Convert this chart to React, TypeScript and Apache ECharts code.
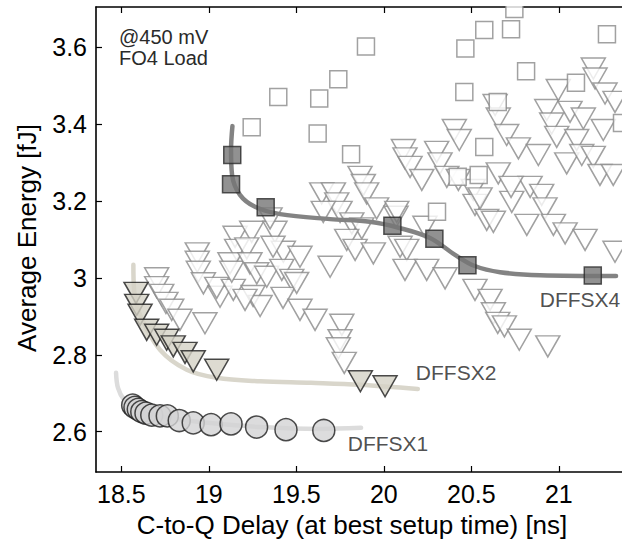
import React, { useEffect, useRef } from "react";
import * as echarts from "echarts";

// ---------- data ----------
const xTicks = [18.5, 19, 19.5, 20, 20.5, 21];
const yTicks = [2.6, 2.8, 3, 3.2, 3.4, 3.6];

const xTitle = "C-to-Q Delay (at best setup time) [ns]";
const yTitle = "Average Energy [fJ]";
const noteLines = ["@450 mV", "FO4 Load"];

// DFFSX1 (circles)
const dffsx1Points: [number, number][] = [
  [18.565, 2.669], [18.578, 2.663], [18.597, 2.658], [18.617, 2.652], [18.641, 2.648],
  [18.674, 2.643], [18.721, 2.641], [18.763, 2.641], [18.831, 2.629], [18.911, 2.623],
  [19.013, 2.618], [19.127, 2.62], [19.273, 2.612], [19.441, 2.605], [19.657, 2.603],
];
const dffsx1Curve: [number, number][] = [
  [18.47, 2.753], [18.481, 2.714], [18.516, 2.683], [18.578, 2.662], [18.721, 2.641],
  [18.95, 2.625], [19.293, 2.612], [19.636, 2.607], [19.87, 2.61],
];

// DFFSX2 (filled triangles)
const dffsx2Points: [number, number][] = [
  [18.584, 2.961], [18.588, 2.93], [18.607, 2.904], [18.645, 2.865], [18.702, 2.852],
  [18.759, 2.839], [18.797, 2.822], [18.864, 2.805], [18.911, 2.783], [19.045, 2.761],
  [19.866, 2.731], [20.007, 2.718],
];
const dffsx2Curve: [number, number][] = [
  [18.569, 3.034], [18.573, 2.969], [18.607, 2.904], [18.721, 2.813], [18.874, 2.761],
  [19.045, 2.74], [19.293, 2.731], [19.584, 2.727], [19.864, 2.722], [20.194, 2.711],
];

// DFFSX4 (filled squares)
const dffsx4Points: [number, number][] = [
  [19.134, 3.32], [19.127, 3.244], [19.325, 3.184], [20.049, 3.136], [20.289, 3.102],
  [20.478, 3.033], [21.194, 3.006],
];
const dffsx4Curve: [number, number][] = [
  [19.135, 3.395], [19.127, 3.333], [19.133, 3.268], [19.178, 3.216], [19.264, 3.185],
  [19.407, 3.166], [19.693, 3.153], [19.92, 3.146], [20.09, 3.13], [20.264, 3.104],
  [20.407, 3.06], [20.52, 3.031], [20.664, 3.015], [20.893, 3.007], [21.327, 3.005],
];

// Other designs: open triangles
const otherTriangles: [number, number][] = [
  [18.702, 2.999], [18.702, 2.976], [18.731, 2.956], [18.755, 2.935], [18.788, 2.917],
  [18.835, 2.891], [18.978, 2.882], [18.934, 3.064], [18.934, 3.042], [18.94, 3.016],
  [18.969, 2.986], [19.064, 2.951], [19.045, 2.974], [19.14, 2.969], [19.253, 2.953],
  [19.293, 2.927], [19.207, 2.943], [19.15, 3.107], [19.245, 3.12], [19.378, 3.12],
  [19.159, 3.073], [19.217, 3.077], [19.121, 3.038], [19.131, 3.016], [19.235, 3.038],
  [19.274, 3.012], [19.331, 3.003], [19.426, 3.068], [19.417, 3.021], [19.474, 2.995],
  [19.521, 3.055], [19.424, 2.948], [19.521, 2.917], [19.502, 2.987], [19.35, 3.155],
  [19.367, 3.081],
  [20.112, 3.333], [20.121, 3.311], [20.15, 3.289], [20.217, 3.255], [20.302, 3.328],
  [20.321, 3.298], [20.36, 3.263], [20.426, 3.255], [20.403, 3.385], [20.431, 3.359],
  [20.511, 3.229], [20.521, 3.19], [20.588, 3.151], [19.864, 3.263], [19.883, 3.242],
  [19.902, 3.22], [19.959, 3.181], [20.07, 3.159], [19.645, 3.22], [19.712, 3.22],
  [19.731, 3.194], [19.75, 3.172], [19.654, 3.172], [19.817, 3.142], [19.874, 3.129],
  [19.788, 3.099], [19.836, 3.073], [19.94, 3.064], [20.074, 3.172], [20.093, 3.081],
  [20.131, 3.073], [20.235, 3.133], [20.121, 3.021], [20.245, 3.021], [20.35, 2.999],
  [19.693, 3.029], [19.607, 2.891], [19.76, 2.878], [19.75, 2.838], [19.74, 2.817],
  [19.774, 2.779], [20.521, 2.969], [20.607, 2.943], [20.626, 2.908], [20.651, 2.883],
  [20.689, 2.874], [20.774, 2.839], [20.937, 2.822],
  [20.636, 3.45], [20.654, 3.415], [20.702, 3.372], [20.769, 3.337], [20.883, 3.32],
  [20.654, 3.272], [20.55, 3.207], [20.626, 3.146], [20.836, 3.237], [20.731, 3.198],
  [20.902, 3.216], [20.921, 3.181], [20.817, 3.138], [20.969, 3.138], [21.036, 3.116],
  [21.15, 3.099], [21.321, 3.068], [20.931, 3.437], [20.997, 3.489], [21.064, 3.432],
  [21.14, 3.415], [21.197, 3.545], [21.207, 3.519], [21.264, 3.48], [21.321, 3.458],
  [20.959, 3.402], [20.988, 3.367], [21.045, 3.298], [21.102, 3.359], [21.131, 3.32],
  [21.197, 3.315], [21.254, 3.385], [21.235, 3.268], [21.311, 3.268], [20.727, 3.237],
];

// Other designs: open squares
const otherSquares: [number, number][] = [
  [19.397, 3.471], [19.245, 3.392], [19.898, 3.602], [19.74, 3.517], [19.631, 3.467],
  [19.622, 3.376], [19.813, 3.322], [20.574, 3.645], [20.727, 3.647], [20.746, 3.7],
  [20.466, 3.597], [20.813, 3.538], [20.46, 3.484], [20.651, 3.458], [20.574, 3.341],
  [20.422, 3.263], [20.542, 3.268], [20.304, 3.172], [21.098, 3.508], [21.275, 3.634],
  [21.361, 3.403],
];

// Series labels anchored in data coordinates
const seriesLabels: { name: string; pos: [number, number] }[] = [
  { name: "DFFSX4", pos: [21.121, 2.943] },
  { name: "DFFSX2", pos: [20.413, 2.755] },
  { name: "DFFSX1", pos: [20.024, 2.568] },
];

// ---------- chart ----------
const FONT = "'Liberation Sans', Arial, Helvetica, sans-serif";
const downTri = "path://M0 0L24 0L12 21Z";

export default function App() {
  const ref = useRef<HTMLDivElement>(null);

  useEffect(() => {
    if (!ref.current) return;
    const chart = echarts.init(ref.current, undefined, { renderer: "svg" });

    const xMin = 18.3554;
    const xMax = 21.361;
    const yMin = 2.495;
    const yMax = 3.705;

    const axisLine = { show: true, lineStyle: { color: "#000", width: 1.6 } };

    const curve = (data: [number, number][], color: string) => ({
      type: "line",
      data,
      smooth: 0.35,
      showSymbol: false,
      symbol: "none",
      silent: true,
      clip: false,
      lineStyle: { color, width: 4.5, cap: "round", join: "round" },
      z: 3,
    });

    chart.setOption({
      animation: false,
      backgroundColor: "#fff",
      grid: { left: 96, top: 7, right: 0, bottom: 74, containLabel: false },
      xAxis: [
        {
          type: "value",
          min: xMin,
          max: xMax,
          position: "bottom",
          axisLine,
          splitLine: { show: false },
          axisTick: { show: true, inside: true, length: 6, customValues: xTicks, lineStyle: { color: "#000", width: 1.2 } },
          axisLabel: {
            show: true,
            customValues: xTicks,
            fontSize: 25,
            color: "#000",
            fontFamily: FONT,
            margin: 9,
          },
        },
        {
          type: "value",
          min: xMin,
          max: xMax,
          position: "top",
          axisLine,
          splitLine: { show: false },
          axisTick: { show: true, inside: true, length: 6, customValues: xTicks, lineStyle: { color: "#000", width: 1.2 } },
          axisLabel: { show: false },
        },
      ],
      yAxis: [
        {
          type: "value",
          min: yMin,
          max: yMax,
          axisLine,
          splitLine: { show: false },
          axisTick: { show: true, inside: true, length: 6, customValues: yTicks, lineStyle: { color: "#000", width: 1.2 } },
          axisLabel: {
            show: true,
            customValues: yTicks,
            fontSize: 25,
            color: "#000",
            fontFamily: FONT,
            margin: 9,
          },
        },
      ],
      graphic: [
        {
          type: "rect",
          z: 100,
          silent: true,
          shape: { x: 97, y: 0, width: 525, height: 6 },
          style: { fill: "#fff" },
        },
        {
          type: "text",
          x: 352,
          y: 525,
          style: {
            text: xTitle,
            fontSize: 26,
            fontFamily: FONT,
            fill: "#000",
            textAlign: "center",
            textVerticalAlign: "middle",
          },
        },
        {
          type: "text",
          x: 27,
          y: 238,
          rotation: Math.PI / 2,
          style: {
            text: yTitle,
            fontSize: 26,
            fontFamily: FONT,
            fill: "#000",
            textAlign: "center",
            textVerticalAlign: "middle",
          },
        },
        {
          type: "text",
          x: 119,
          y: 26,
          style: {
            text: noteLines.join("\n"),
            fontSize: 20,
            lineHeight: 21,
            fontFamily: FONT,
            fill: "#2a2a2a",
            textAlign: "left",
            textVerticalAlign: "top",
          },
        },
      ],
      series: [
        {
          type: "scatter",
          data: otherTriangles,
          symbol: downTri,
          symbolSize: [24, 21],
          clip: false,
          itemStyle: { color: "#fff", borderColor: "#8a8a8a", borderWidth: 1.5 },
          z: 1,
        },
        {
          type: "scatter",
          data: otherSquares,
          symbol: "rect",
          symbolSize: 17,
          clip: false,
          itemStyle: { color: "#fff", borderColor: "#8a8a8a", borderWidth: 1.5 },
          z: 2,
        },
        curve(dffsx1Curve, "#dcdcdc"),
        curve(dffsx2Curve, "#d9d6cb"),
        curve(dffsx4Curve, "#838383"),
        {
          type: "scatter",
          data: dffsx1Points,
          symbol: "circle",
          symbolSize: 22,
          clip: false,
          itemStyle: { color: "#d3d3d5", borderColor: "#1e1e1e", borderWidth: 1.5 },
          z: 4,
        },
        {
          type: "scatter",
          data: dffsx2Points,
          symbol: downTri,
          symbolSize: [24, 21],
          clip: false,
          itemStyle: { color: "#d4d2c6", borderColor: "#1e1e1e", borderWidth: 1.5 },
          z: 4,
        },
        {
          type: "scatter",
          data: dffsx4Points,
          symbol: "rect",
          symbolSize: 17,
          clip: false,
          itemStyle: { color: "#767676", borderColor: "#2a2a2a", borderWidth: 1.5 },
          z: 4,
        },
        {
          type: "scatter",
          data: seriesLabels.map((s) => ({ value: s.pos, name: s.name })),
          symbolSize: 0,
          silent: true,
          clip: false,
          label: {
            show: true,
            position: "inside",
            formatter: (p: any) => p.name,
            fontSize: 21,
            fontFamily: FONT,
            color: "#222",
          },
          z: 5,
        },
      ],
    });

    return () => chart.dispose();
  }, []);

  return (
    <div
      ref={ref}
      style={{ position: "fixed", left: 0, top: 0, width: 622, height: 546, background: "#fff" }}
    />
  );
}
